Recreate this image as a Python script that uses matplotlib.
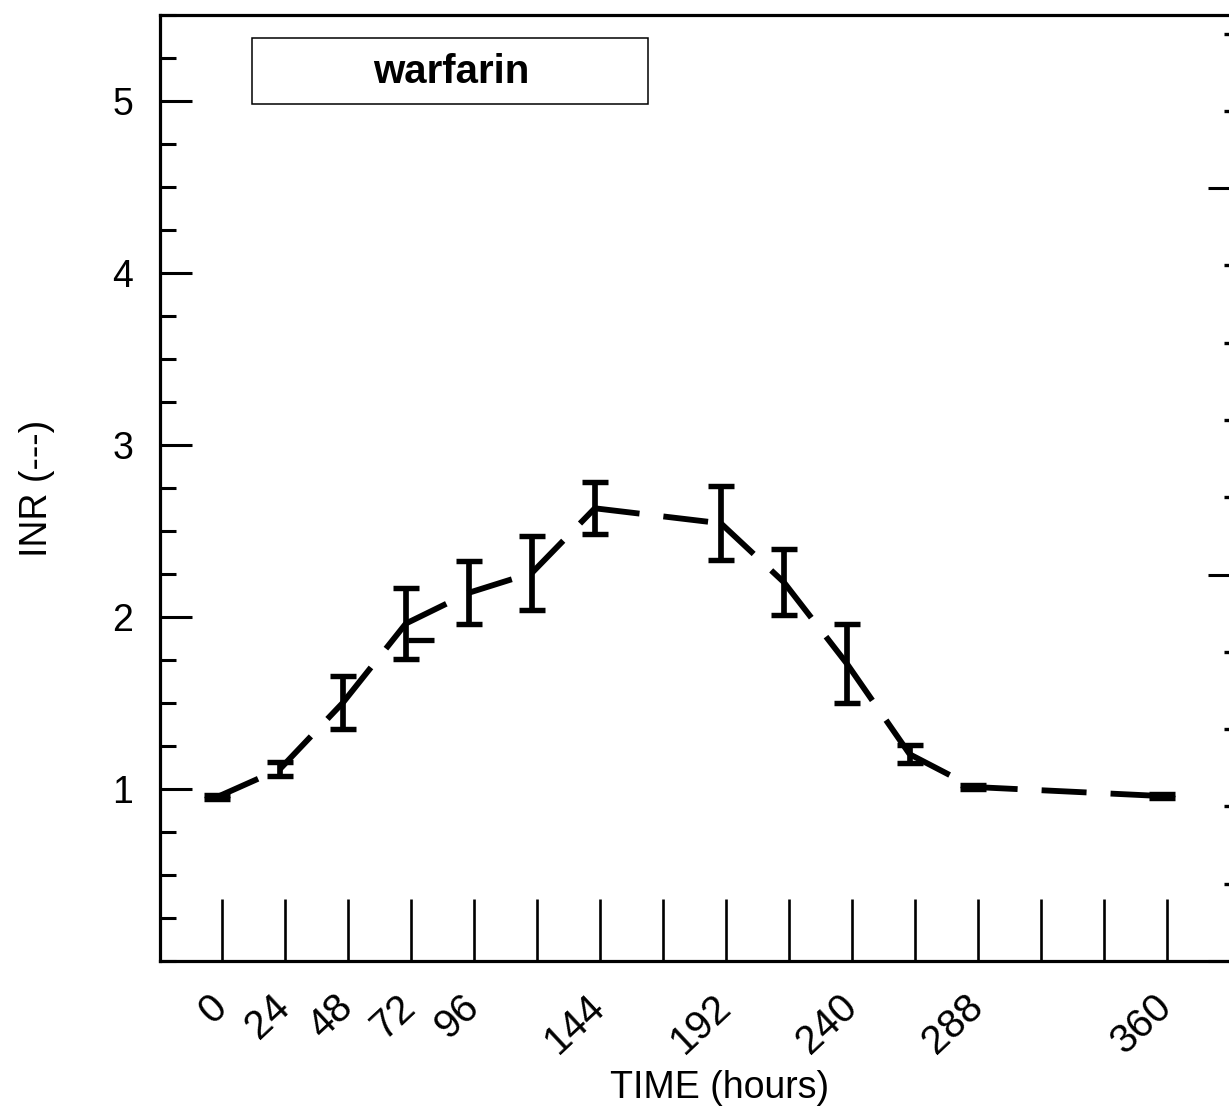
import matplotlib
matplotlib.use("Agg")
import matplotlib.pyplot as plt
import matplotlib.transforms as mtransforms
from matplotlib.ticker import FixedLocator, FixedFormatter, MultipleLocator
from matplotlib.patches import Rectangle

plt.rcParams['font.family'] = ['Liberation Sans', 'DejaVu Sans']
plt.rcParams['lines.scale_dashes'] = False

# ---- data ----
time_h = [0, 24, 48, 72, 96, 120, 144, 192, 216, 240, 264, 288, 360]
inr_mean = [0.953, 1.116, 1.502, 1.962, 2.141, 2.256, 2.632, 2.545, 2.203, 1.730, 1.202, 1.012, 0.959]
inr_err = [0.013, 0.039, 0.155, 0.206, 0.184, 0.217, 0.151, 0.214, 0.194, 0.228, 0.052, 0.010, 0.013]
extra_cap_t = [77.7]
extra_cap_y = [1.866]

xtick_pos = [0, 24, 48, 72, 96, 120, 144, 168, 192, 216, 240, 264, 288, 312, 336, 360]
xtick_labels = ["0", "24", "48", "72", "96", "", "144", "", "192", "", "240", "", "288", "", "", "360"]
ytick_major = [1, 2, 3, 4, 5]
ytick_labels = ["1", "2", "3", "4", "5"]

W, H = 1229, 1119
fig = plt.figure(figsize=(W / 100, H / 100), dpi=100)
ax_left, ax_bottom_px, ax_w, ax_h = 159.5, 961, 1075.8, 946
ax = fig.add_axes([ax_left / W, 1 - ax_bottom_px / H, ax_w / W, ax_h / H])
ax.set_xlim(-24, 386)
ax.set_ylim(0, 5.5)

for s in ax.spines.values():
    s.set_linewidth(2.3)

# x ticks
ax.xaxis.set_major_locator(FixedLocator(xtick_pos))
ax.xaxis.set_major_formatter(FixedFormatter(xtick_labels))
ax.tick_params(axis='x', which='major', direction='in', length=44.6, width=1.9,
               pad=19, labelsize=29, top=False)
lab_shift = mtransforms.ScaledTranslation(12 / 100, 0, fig.dpi_scale_trans)
for lab in ax.get_xticklabels():
    lab.set_rotation(43)
    lab.set_ha('right')
    lab.set_va('top')
    lab.set_transform(lab.get_transform() + lab_shift)

# y ticks
ax.yaxis.set_major_locator(FixedLocator(ytick_major))
ax.yaxis.set_major_formatter(FixedFormatter(ytick_labels))
ax.yaxis.set_minor_locator(MultipleLocator(0.25))
ax.tick_params(axis='y', which='major', direction='in', length=23, width=2.2,
               pad=19, labelsize=27, right=False)
ax.tick_params(axis='y', which='minor', direction='in', length=11.5, width=2.2, right=False)

# right twin axis (ticks only)
ax2 = ax.twinx()
ax2.set_ylim(0, 24.48)
ax2.yaxis.set_major_locator(MultipleLocator(10))
ax2.yaxis.set_minor_locator(MultipleLocator(2))
ax2.tick_params(axis='y', which='major', direction='in', length=19.4, width=2.2, labelright=False)
ax2.tick_params(axis='y', which='minor', direction='in', length=8, width=2.4)
for s in ax2.spines.values():
    s.set_visible(False)

ax.set_xlabel("TIME (hours)", fontsize=27)
ax.xaxis.set_label_coords((720 - ax_left) / ax_w, (ax_bottom_px - 1070) / ax_h)
ax.set_ylabel("INR (---)", fontsize=27)
ax.yaxis.set_label_coords((55 - ax_left) / ax_w, 0.5)

# data drawn slightly left as in the reference
tr = mtransforms.offset_copy(ax.transData, fig=fig, x=-5.5, y=0, units='dots')

lw = 4.2
for i in range(len(time_h) - 1):
    ax.plot(time_h[i:i + 2], inr_mean[i:i + 2], color='black', lw=lw,
            dashes=(32.4, 17.3), dash_capstyle='butt', transform=tr, zorder=3)

ax.errorbar(time_h, inr_mean, yerr=inr_err, fmt='none', ecolor='black',
            elinewidth=4.1, capsize=9.4, capthick=3.9, transform=tr, zorder=4)
ax.plot(extra_cap_t, extra_cap_y, linestyle='none', marker='_', markersize=18.7,
        markeredgewidth=3.8, color='black', transform=tr, zorder=4)

# legend-like box
ax.add_patch(Rectangle(((252 - ax_left) / ax_w, (ax_bottom_px - 104) / ax_h),
                       396 / ax_w, 66 / ax_h, transform=ax.transAxes,
                       fill=False, lw=1.1, edgecolor='black', zorder=5))
ax.text((451 - ax_left) / ax_w, (ax_bottom_px - 72) / ax_h, "warfarin",
        transform=ax.transAxes, ha='center', va='center', fontsize=29,
        fontweight='bold', zorder=6)

fig.savefig("out.png", dpi=100)
